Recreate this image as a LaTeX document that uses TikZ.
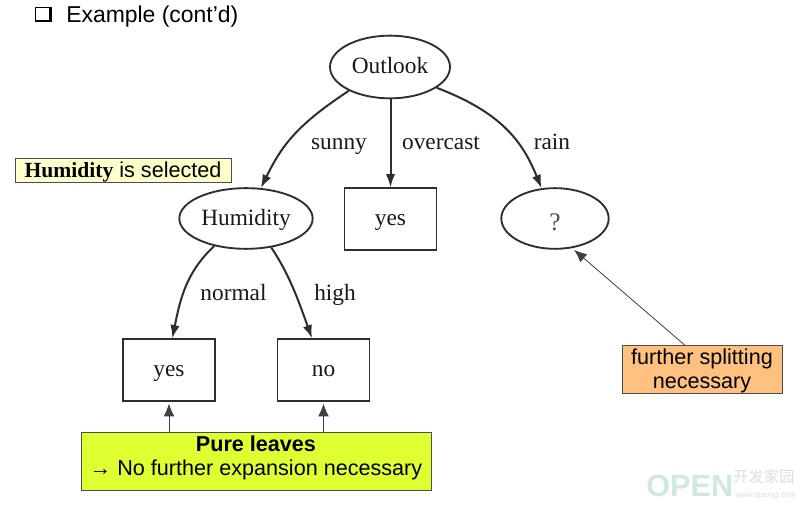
\documentclass[tikz,border=0pt]{standalone}
\usepackage{fontspec}
\setmainfont{Liberation Serif}
\newfontfamily\arialfont{Liberation Sans}
\newfontfamily\cjkfont{Noto Sans CJK SC}
\usetikzlibrary{shapes.geometric,arrows.meta}
\definecolor{linegray}{HTML}{2E2E2E}
\definecolor{noteyellow}{HTML}{FFFFCC}
\definecolor{noteorange}{HTML}{FFC080}
\definecolor{notegreen}{HTML}{E0FF33}
\definecolor{markgreen}{HTML}{CFE8E0}
\definecolor{markgray}{HTML}{DADFDD}
\tikzset{
  treeell/.style={ellipse,draw=linegray,line width=1.4pt,inner sep=0pt,text height=10.5pt,text depth=0pt,font=\fontsize{17.5}{20}\selectfont,text=black!90},
  treebox/.style={rectangle,draw=linegray,line width=1.4pt,inner sep=0pt,text height=10.5pt,text depth=0pt,font=\fontsize{17.5}{20}\selectfont,text=black!90},
  edgeline/.style={draw=linegray,line width=1.5pt,-{Latex[length=10pt,width=7pt]}},
  edgelabel/.style={font=\fontsize{17.5}{20}\selectfont,text=black!90,inner sep=0pt},
  notebox/.style={rectangle,draw=black!70,line width=0.6pt,inner sep=0pt,align=center,font=\arialfont\fontsize{16.2}{18}\selectfont},
  noteline/.style={draw=black!75,line width=0.6pt,-{Latex[length=9.5pt,width=8pt]}}
}
\begin{document}
\begin{tikzpicture}[x=0.75pt,y=-0.75pt]
\useasboundingbox[fill=white] (0,0) rectangle (800,505);

% heading with its square bullet
\fill[black] (34.5,7) rectangle (51.5,22.5);
\fill[white] (36,8) rectangle (49,20);
\node[anchor=west,inner sep=0pt,font=\arialfont\fontsize{17.2}{20}\selectfont] (title) at (66,16.5) {Example (cont’d)};

% decision tree
\node[treeell,minimum width=90pt,minimum height=47pt] (outlook) at (390,67) {Outlook};
\node[treeell,minimum width=100pt,minimum height=45.5pt] (humidity) at (246,218.5) {Humidity};
\node[treebox,minimum width=69pt,minimum height=46pt] (yestop) at (390.5,219) {yes};
\node[treeell,minimum width=80.5pt,minimum height=45.5pt,font=\fontsize{19}{20}\selectfont,text=black!70] (unknown) at (555,218.5) {\raisebox{-4pt}{?}};
\node[treebox,minimum width=68.5pt,minimum height=46pt] (yesleaf) at (169,370) {yes};
\node[treebox,minimum width=69pt,minimum height=46pt] (noleaf) at (323.5,370) {no};

\draw[edgeline] (outlook.210) .. controls (297,125) and (282,145) .. (humidity.64);
\draw[edgeline] (outlook.south -| yestop) -- (yestop.north);
\draw[edgeline] (outlook.336) .. controls (500,112) and (522,140) .. (unknown.114);
\draw[edgeline] (humidity.221) .. controls (186,272) and (180,300) .. (yesleaf.84);
\draw[edgeline] (humidity.311) .. controls (290,275) and (300,305) .. (noleaf.110);

\node[edgelabel,anchor=base] (sunny) at (339,150) {sunny};
\node[edgelabel,anchor=base] (overcast) at (441,150) {overcast};
\node[edgelabel,anchor=base] (rain) at (552,150) {rain};
\node[edgelabel,anchor=base] (normal) at (233.5,301) {normal};
\node[edgelabel,anchor=base] (high) at (335,301) {high};

% coloured notes; the struts trim the vertical placement of their text
\node[notebox,fill=noteyellow,minimum width=162pt,minimum height=18.5pt,text height=10pt,text depth=0pt] (selected) at (123,170.5)
  {{\fontspec{Liberation Serif}\bfseries Humidity} is selected};
\node[notebox,fill=noteorange,minimum width=120pt,minimum height=35.5pt] (further) at (702,369.5)
  {\rule{0pt}{13.2pt}further splitting\\necessary};
\node[notebox,fill=notegreen,minimum width=262.5pt,minimum height=43.5pt] (pure) at (256,461)
  {\bfseries Pure leaves\\→ No further expansion necessary\rule[-8pt]{0pt}{8pt}};

\draw[noteline,shorten >=2pt] (further.125) -- (unknown.300);
\draw[noteline,shorten >=1.5pt] (pure.north -| yesleaf) -- (yesleaf.south);
\draw[noteline,shorten >=1.5pt] (pure.north -| noleaf) -- (noleaf.south);

% faint site mark in the corner
\node[anchor=west,inner sep=0pt,font=\arialfont\bfseries\fontsize{23}{25}\selectfont,text=markgreen] (markopen) at (646,486) {OPEN};
\node[anchor=west,inner sep=0pt,font=\cjkfont\fontsize{11.5}{12}\selectfont,text=markgray] (markname) at (733,477) {开发家园};
\node[anchor=west,inner sep=0pt,font=\arialfont\fontsize{6}{7}\selectfont,text=markgray] (markurl) at (735,495) {www.openjg.com};
\end{tikzpicture}
\end{document}
